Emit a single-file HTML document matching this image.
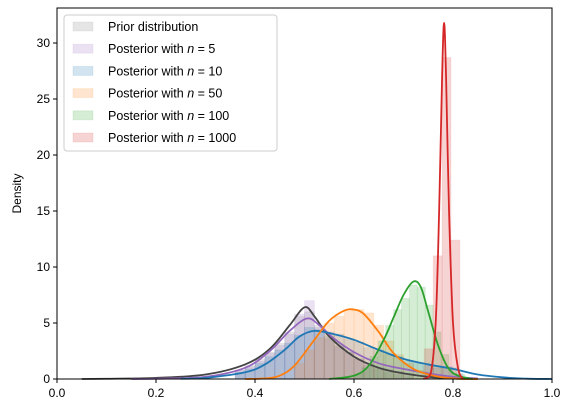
<!DOCTYPE html>
<html><head><meta charset="utf-8"><style>
body{margin:0;background:#fff;}
svg{display:block;font-family:"Liberation Sans","DejaVu Sans",sans-serif;}
</style></head><body>
<svg id="chart" width="574" height="413"></svg>
<script>
// ---- data ----
const xTicks=[0.0,0.2,0.4,0.6,0.8,1.0];
const yTicks=[0,5,10,15,20,25,30];
const seriesNames=["Prior distribution","Posterior with n = 5","Posterior with n = 10","Posterior with n = 50","Posterior with n = 100","Posterior with n = 1000"];
const seriesColors=["#7f7f7f","#9467bd","#1f77b4","#ff7f0e","#2ca02c","#d62728"];
const lineColors=["#444444","#9467bd","#1f77b4","#ff7f0e","#2ca02c","#d62728"];
const priorX=[0.05,0.1,0.2,0.3,0.38,0.43,0.47,0.5,0.52,0.55,0.6,0.65,0.7,0.75,0.8,0.85];
const priorY=[0,0.02,0.1,0.4,1.3,2.7,4.8,6.4,5.6,3.8,2.0,1.0,0.5,0.2,0.05,0];
const n5X=[0.15,0.2,0.3,0.38,0.43,0.47,0.505,0.53,0.56,0.6,0.65,0.7,0.75,0.8,0.85];
const n5Y=[0,0.02,0.2,1.0,2.5,4.3,5.4,4.8,3.6,2.4,1.4,0.9,0.5,0.2,0.05];
const n10X=[0.25,0.3,0.38,0.42,0.46,0.49,0.52,0.56,0.6,0.65,0.7,0.75,0.8,0.85,0.9,0.95,1.0];
const n10Y=[0.02,0.1,0.6,1.3,2.6,3.8,4.3,4.0,3.5,2.6,1.8,1.3,0.9,0.4,0.15,0.03,0];
const n50X=[0.38,0.42,0.45,0.48,0.52,0.55,0.58,0.6,0.62,0.65,0.68,0.72,0.76,0.8,0.85];
const n50Y=[0,0.05,0.3,1.2,3.5,5.2,6.1,6.2,5.8,4.2,2.3,0.9,0.3,0.05,0];
const n100X=[0.55,0.6,0.63,0.66,0.68,0.70,0.72,0.735,0.75,0.77,0.79,0.81,0.84];
const n100Y=[0,0.3,1.2,3.5,5.5,7.5,8.7,8.2,6.0,3.0,1.0,0.3,0];
const n1000X=[0.74,0.755,0.765,0.772,0.778,0.782,0.786,0.792,0.8,0.81,0.82];
const n1000Y=[0,0.5,5,15,27,31.8,27,15,5,1,0];
const priorBins=[0.36,0.38,0.40,0.42,0.44,0.46,0.48,0.50,0.52,0.54,0.56,0.58,0.60,0.62,0.64,0.66,0.68,0.70];
const priorH=[0.8,1.2,1.8,2.4,3.2,4.2,5.6,6.0,4.8,3.8,3.0,2.4,1.8,1.2,0.9,0.6,0.4,0.2];
const n5Bins=[0.36,0.38,0.40,0.42,0.44,0.46,0.48,0.50,0.52,0.54,0.56,0.58,0.60,0.62,0.64,0.66,0.68,0.70];
const n5H=[0.8,1.1,1.6,2.3,3.0,4.0,5.8,7.0,4.6,3.6,2.9,2.4,1.8,1.4,1.1,0.9,0.7,0.5];
const n10Bins=[0.36,0.38,0.40,0.42,0.44,0.46,0.48,0.50,0.52,0.54,0.56,0.58,0.60,0.62,0.64,0.66,0.68,0.70,0.72,0.74,0.76,0.78,0.80];
const n10H=[0.6,0.9,1.4,2.0,2.6,3.2,3.9,4.6,4.4,4.2,4.0,3.6,3.3,2.8,2.6,2.2,2.0,1.6,1.4,1.2,1.0,1.1,0.5];
const n50Bins=[0.48,0.50,0.52,0.54,0.56,0.58,0.60,0.62,0.64,0.66,0.68,0.70,0.72];
const n50H=[1.4,2.6,3.7,5.0,5.6,6.2,6.2,5.9,4.8,3.4,2.2,1.4,0.8];
const n100Bins=[0.60,0.616,0.632,0.648,0.664,0.68,0.696,0.712,0.728,0.744,0.76,0.776,0.792,0.808];
const n100H=[0.4,1.0,2.0,3.4,4.8,6.2,7.2,8.4,8.2,6.6,4.2,2.2,1.0,0.4];
const n1000Bins=[0.742,0.76,0.778,0.796];
const n1000H=[2.7,11.0,28.7,12.4];
// ---- layout ----
const L=57,R=552,T=8,B=379;
const sx=v=>L+(R-L)*v;
const sy=v=>B-(B-43)*v/30;
const NS="http://www.w3.org/2000/svg";
const svg=document.getElementById('chart');
function mk(tag,attrs,parent){const e=document.createElementNS(NS,tag);for(const k in attrs)e.setAttribute(k,attrs[k]);(parent||svg).appendChild(e);return e;}
function smooth(xs,ys){
  const p=xs.map((x,i)=>[sx(x),sy(ys[i])]);
  let d="M"+p[0][0]+","+p[0][1];
  for(let i=0;i<p.length-1;i++){
    const p0=p[i-1]||p[i],p1=p[i],p2=p[i+1],p3=p[i+2]||p2;
    let c1y=p1[1]+(p2[1]-p0[1])/6,c2y=p2[1]-(p3[1]-p1[1])/6;
    c1y=Math.min(c1y,B);c2y=Math.min(c2y,B);
    d+=" C"+(p1[0]+(p2[0]-p0[0])/6)+","+c1y+" "+(p2[0]-(p3[0]-p1[0])/6)+","+c2y+" "+p2[0]+","+p2[1];
  }
  return d;
}
mk('rect',{x:L,y:T,width:R-L,height:B-T,fill:'#fff'});
const bins=[priorBins,n5Bins,n10Bins,n50Bins,n100Bins,n1000Bins];
const hs=[priorH,n5H,n10H,n50H,n100H,n1000H];
const xsArr=[priorX,n5X,n10X,n50X,n100X,n1000X];
const ysArr=[priorY,n5Y,n10Y,n50Y,n100Y,n1000Y];
const keys=["prior","n5","n10","n50","n100","n1000"];
for(let s=0;s<6;s++){
  const g=mk('g',{});
  
  
  const w=s===4?0.016:(s===5?0.018:0.02);
  bins[s].forEach((b,i)=>{
    const r=mk('rect',{x:sx(b),y:sy(hs[s][i]),width:sx(b+w)-sx(b),height:B-sy(hs[s][i]),fill:seriesColors[s],'fill-opacity':0.2,stroke:seriesColors[s],'stroke-opacity':0.08},g);
    
    
  });
}
for(let s=0;s<6;s++){
  const p=mk('path',{d:smooth(xsArr[s],ysArr[s]),fill:'none',stroke:lineColors[s],'stroke-width':1.8,'stroke-linejoin':'round'});
  
  
}
mk('rect',{x:L,y:T,width:R-L,height:B-T,fill:'none',stroke:'#000','stroke-width':1});
xTicks.forEach(v=>{
  mk('line',{x1:sx(v),x2:sx(v),y1:B,y2:B+4,stroke:'#000'});
  const t=mk('text',{x:sx(v),y:B+18,'font-size':12,'text-anchor':'middle',fill:'#000'});
  t.textContent=v.toFixed(1);
  
  
});
yTicks.forEach(v=>{
  mk('line',{x1:L-4,x2:L,y1:sy(v),y2:sy(v),stroke:'#000'});
  const t=mk('text',{x:L-7,y:sy(v)+4,'font-size':12,'text-anchor':'end',fill:'#000'});
  t.textContent=v;
  
  
});
const yl=mk('text',{x:21,y:(T+B)/2,'font-size':12,'text-anchor':'middle',transform:'rotate(-90 21 '+((T+B)/2)+')'});
yl.textContent="Density";


// legend
const lg=mk('g',{});


mk('rect',{x:64,y:15,width:213,height:136,rx:3,fill:'#fff','fill-opacity':0.8,stroke:'#ccc'},lg);
for(let s=0;s<6;s++){
  const y=22+s*22.2;
  const e=mk('g',{},lg);
  
  
  mk('rect',{x:73,y:y,width:20,height:9,fill:seriesColors[s],'fill-opacity':0.2,stroke:seriesColors[s],'stroke-opacity':0.1},e);
  const t=mk('text',{x:108,y:y+9,'font-size':12.5,fill:'#000'},e);
  if(s===0){t.textContent=seriesNames[0];}
  else{
    const parts=seriesNames[s].split("n = ");
    t.appendChild(document.createTextNode(parts[0]));
    const ts=mk('tspan',{'font-style':'italic'},t);ts.textContent="n";
    t.appendChild(document.createTextNode(" = "+parts[1]));
  }
}
</script>
</body></html>
